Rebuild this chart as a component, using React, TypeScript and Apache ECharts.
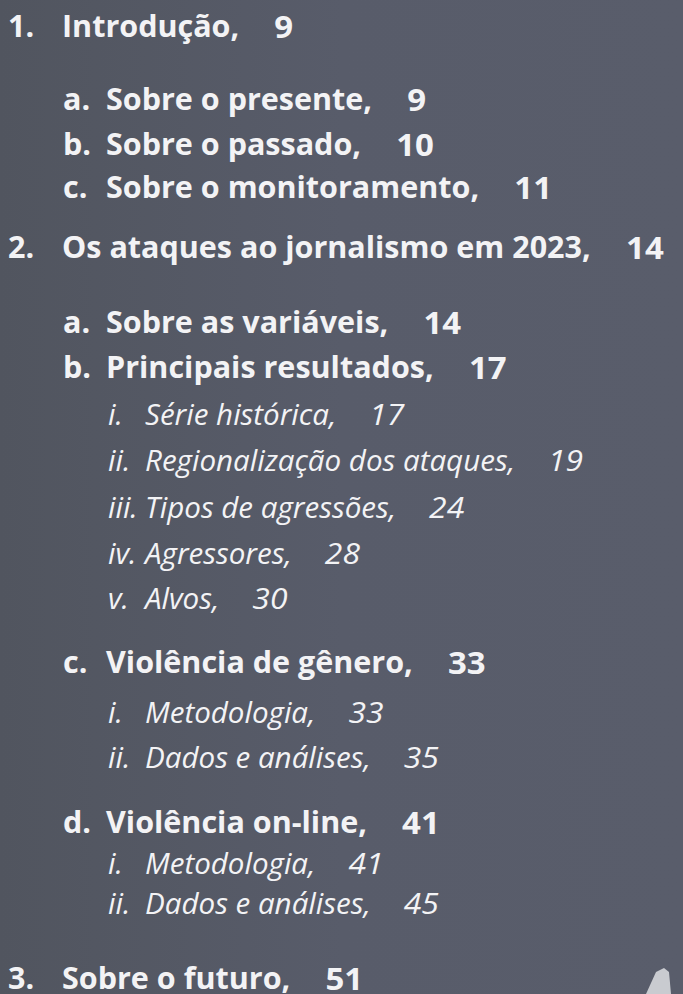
import React, { useEffect, useRef } from "react";
import * as echarts from "echarts";

const markers = ["1.", "a.", "b.", "c.", "2.", "a.", "b.", "i.", "ii.", "iii.", "iv.", "v.", "c.", "i.", "ii.", "d.", "i.", "ii.", "3."];
const titles = [
  "Introdução",
  "Sobre o presente",
  "Sobre o passado",
  "Sobre o monitoramento",
  "Os ataques ao jornalismo em 2023",
  "Sobre as variáveis",
  "Principais resultados",
  "Série histórica",
  "Regionalização dos ataques",
  "Tipos de agressões",
  "Agressores",
  "Alvos",
  "Violência de gênero",
  "Metodologia",
  "Dados e análises",
  "Violência on-line",
  "Metodologia",
  "Dados e análises",
  "Sobre o futuro",
];
const pages = [9, 9, 10, 11, 14, 14, 17, 17, 19, 24, 28, 30, 33, 33, 35, 41, 41, 45, 51];
const levels = [1, 2, 2, 2, 1, 2, 2, 3, 3, 3, 3, 3, 2, 3, 3, 2, 3, 3, 1];

// layout (not data)
const Y_CENTERS = [26, 99, 144, 187, 247, 322, 367, 413, 459, 506, 552, 597, 662, 711, 756, 822, 862, 902, 978];
const MARK_X: Record<number, number> = { 1: 8, 2: 63, 3: 108 };
const LABEL_X: Record<number, number> = { 1: 62, 2: 106, 3: 145 };
const FONT = "'Open Sans'";
const SIZE = 28;
const GAP_BOLD = 35;
const GAP_ITAL = 33;
const SY = 1.06;

function fontOf(level: number) {
  return `${level === 3 ? "italic 400" : "bold"} ${SIZE}px ${FONT}`;
}
function measure(text: string, level: number) {
  const c = document.createElement("canvas").getContext("2d")!;
  c.font = fontOf(level);
  return c.measureText(text).width;
}

export default function App() {
  const ref = useRef<HTMLDivElement>(null);
  useEffect(() => {
    const chart = echarts.init(ref.current!, undefined, { renderer: "svg" });
    // horizontal scale per style, fitted to the reference's text widths
    const sxBold = (1.025 * 173) / measure("Introdução,", 1);
    const sxItal = 370 / measure("Regionalização dos ataques,", 3);
    const elements: any[] = [];
    elements.push({
      type: "rect",
      shape: { x: 0, y: 0, width: 683, height: 994 },
      style: {
        fill: new echarts.graphic.LinearGradient(0, 0, 1, 0, [
          { offset: 0, color: "#51555f" },
          { offset: 0.5, color: "#585c6a" },
          { offset: 1, color: "#595d6b" },
        ]),
      },
      z: 0,
    });
    elements.push({
      type: "polygon",
      shape: { points: [[646, 994], [656, 972], [664, 968], [669, 972], [671, 994]] },
      style: { fill: "#c9cbd0" },
      z: 1,
    });
    titles.forEach((t, i) => {
      const lv = levels[i];
      const sx = lv === 3 ? sxItal : sxBold;
      const gap = lv === 3 ? GAP_ITAL : GAP_BOLD;
      const font = {
        fontFamily: FONT,
        fontSize: SIZE,
        fontWeight: lv === 3 ? 400 : "bold",
        fontStyle: lv === 3 ? "italic" : "normal",
      };
      const label = t + ",";
      const w = measure(label, lv) * sx;
      const common = { fill: "#f3f3f5", verticalAlign: "middle", align: "left", ...font };
      elements.push({
        type: "text", x: MARK_X[lv], y: Y_CENTERS[i], scaleX: sx, scaleY: SY, z: 5,
        style: { text: markers[i], ...common },
      });
      elements.push({
        type: "text", x: LABEL_X[lv], y: Y_CENTERS[i], scaleX: sx, scaleY: SY, z: 5,
        style: { text: label, ...common },
      });
      elements.push({
        type: "text", x: LABEL_X[lv] + w + gap, y: Y_CENTERS[i], scaleX: sx * 1.08, scaleY: SY, z: 5,
        style: { text: String(pages[i]), ...common },
      });
    });
    chart.setOption({ animation: false, graphic: { elements } });
    return () => chart.dispose();
  }, []);
  return <div ref={ref} style={{ width: 683, height: 994, position: "absolute", left: 0, top: 0 }} />;
}
